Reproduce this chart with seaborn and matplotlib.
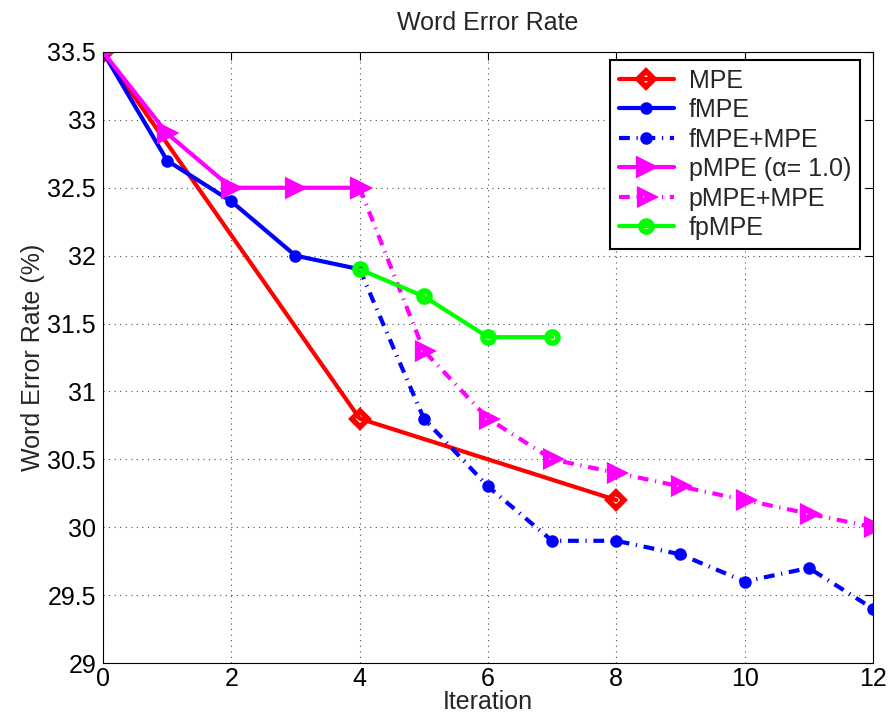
import matplotlib
matplotlib.use("Agg")
import matplotlib.pyplot as plt
import seaborn as sns
import pandas as pd

sns.set_style("white")
plt.rcParams['font.family'] = ['Liberation Sans', 'DejaVu Sans']

# Data
mpe_x = [0, 4, 8]
mpe_y = [33.5, 30.8, 30.2]
fmpe_x = [0, 1, 2, 3, 4]
fmpe_y = [33.5, 32.7, 32.4, 32.0, 31.9]
fmpe_mpe_x = [4, 5, 6, 7, 8, 9, 10, 11, 12]
fmpe_mpe_y = [31.9, 30.8, 30.3, 29.9, 29.9, 29.8, 29.6, 29.7, 29.4]
pmpe_x = [0, 1, 2, 3, 4]
pmpe_y = [33.5, 32.9, 32.5, 32.5, 32.5]
pmpe_mpe_x = [4, 5, 6, 7, 8, 9, 10, 11, 12]
pmpe_mpe_y = [32.5, 31.3, 30.8, 30.5, 30.4, 30.3, 30.2, 30.1, 30.0]
fpmpe_x = [4, 5, 6, 7]
fpmpe_y = [31.9, 31.7, 31.4, 31.4]

labels = ["MPE", "fMPE", "fMPE+MPE", "pMPE (\u03b1= 1.0)", "pMPE+MPE", "fpMPE"]
x_ticks = [0, 2, 4, 6, 8, 10, 12]
y_ticks = [29, 29.5, 30, 30.5, 31, 31.5, 32, 32.5, 33, 33.5]
y_tick_labels = ["29", "29.5", "30", "30.5", "31", "31.5", "32", "32.5", "33", "33.5"]

FS = 18
fig = plt.figure(figsize=(8.94, 7.17), dpi=100)
ax = fig.add_axes([0.1152, 0.0753, 0.8613, 0.8522])

dashdot = (0, (2.6, 1.6, 0.3, 1.6))
LW = 3.0

series = [
    (mpe_x, mpe_y, labels[0], "#ff0000", "D", 8, "none", 4, "-"),
    (fmpe_x, fmpe_y, labels[1], "#0000ff", "o", 6, "#0000ff", 3, "-"),
    (fmpe_mpe_x, fmpe_mpe_y, labels[2], "#0000ff", "o", 6, "#0000ff", 3, dashdot),
    (pmpe_x, pmpe_y, labels[3], "#ff00ff", ">", 11, "#ff00ff", 3, "-"),
    (pmpe_mpe_x, pmpe_mpe_y, labels[4], "#ff00ff", ">", 9, "none", 4.5, dashdot),
    (fpmpe_x, fpmpe_y, labels[5], "#00ff00", "o", 8, "none", 4, "-"),
]

for xs, ys, lab, col, mk, ms, mfc, mew, ls in series:
    df = pd.DataFrame({"x": xs, "y": ys})
    sns.lineplot(data=df, x="x", y="y", ax=ax, color=col, marker=mk,
                 markersize=ms, markerfacecolor=mfc, markeredgecolor=col,
                 markeredgewidth=mew, linewidth=LW, linestyle=ls, label=lab,
                 sort=False, estimator=None)

ax.set_xlim(0, 12)
ax.set_ylim(29, 33.5)
ax.set_xticks(x_ticks)
ax.set_xticklabels([str(t) for t in x_ticks])
ax.set_yticks(y_ticks)
ax.set_yticklabels(y_tick_labels)
ax.tick_params(direction="in", length=6, width=0.8, labelsize=FS, colors="black",
               top=True, right=True, pad=5)
ax.tick_params(axis="x", pad=3)
ax.grid(True, linestyle=(0, (1, 4)), color="black", linewidth=0.8, alpha=0.7)
for s in ax.spines.values():
    s.set_visible(True)
    s.set_color("black")
    s.set_linewidth(0.8)

ax.set_title("Word Error Rate", fontsize=FS, pad=16)
ax.set_xlabel("Iteration", fontsize=FS, labelpad=-1)
ax.set_ylabel("Word Error Rate (%)", fontsize=FS, labelpad=2)

leg = ax.legend(loc="upper right", fontsize=FS, frameon=True, fancybox=False,
                framealpha=1, edgecolor="black", handlelength=2.2, numpoints=1,
                borderpad=0.35, labelspacing=0.22, handletextpad=0.6,
                borderaxespad=0, bbox_to_anchor=(0.983, 0.987))
leg.get_frame().set_linewidth(1.5)

fig.savefig("out.png", dpi=100)
